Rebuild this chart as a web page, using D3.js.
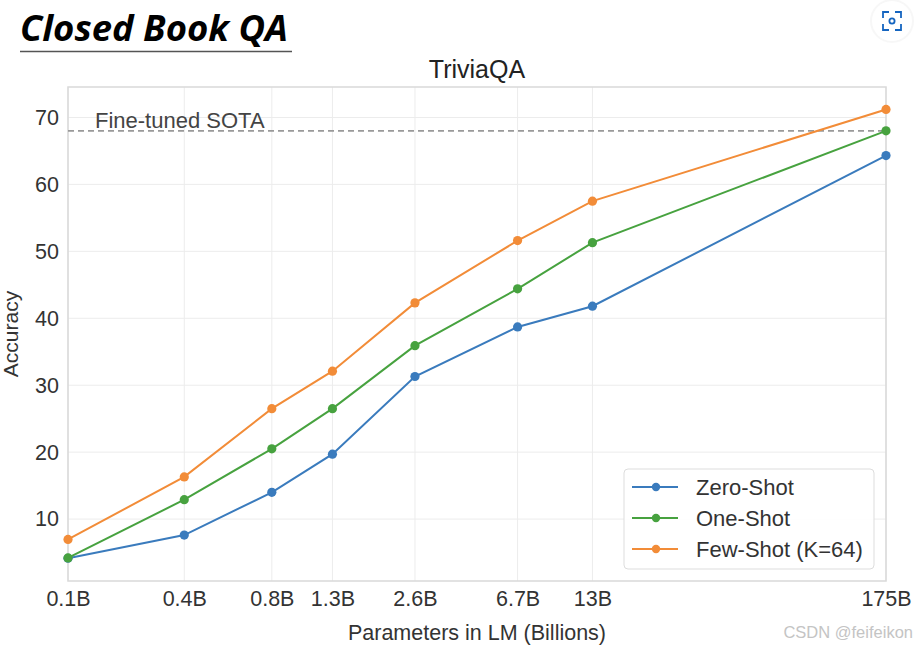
<!DOCTYPE html>
<html><head><meta charset="utf-8">
<script src="https://cdn.jsdelivr.net/npm/d3@7"></script>
<style>html,body{margin:0;padding:0;background:#fff;}svg{display:block;}</style>
</head><body>
<svg id="c" width="917" height="648"></svg>
<script>
const params = [0.125, 0.35, 0.76, 1.3, 2.7, 6.7, 13, 175];
const tickLabels = ["0.1B", "0.4B", "0.8B", "1.3B", "2.6B", "6.7B", "13B", "175B"];
const zeroShot = [4.15, 7.61, 14.0, 19.7, 31.3, 38.7, 41.8, 64.3];
const oneShot = [4.19, 12.9, 20.5, 26.5, 35.9, 44.4, 51.3, 68.0];
const fewShot = [6.96, 16.3, 26.5, 32.1, 42.3, 51.6, 57.5, 71.2];
const seriesNames = ["Zero-Shot", "One-Shot", "Few-Shot (K=64)"];
const seriesColors = ["#3a7bbd", "#47a23f", "#f28c38"];
const yTicks = [10, 20, 30, 40, 50, 60, 70];
const sota = 68.0;

const svg = d3.select("#c");
const L = 68, R = 886, T = 87, B = 581;
const x = d3.scaleLog().domain([0.125, 175]).range([L, R]);
const y = d3.scaleLinear().domain([0.75, 74.55]).range([B, T]);
const font = "'Liberation Sans', Arial, sans-serif";

// title block
svg.append("text").attr("x", 20).attr("y", 41).attr("font-family", "'Open Sans', 'Liberation Sans', sans-serif")
  .attr("font-weight", "bold").attr("font-style", "italic").attr("font-size", 36).attr("fill", "#000")
  .attr("textLength", 268).attr("lengthAdjust", "spacingAndGlyphs").text("Closed Book QA");
svg.append("line").attr("x1", 20).attr("x2", 292).attr("y1", 51.5).attr("y2", 51.5).attr("stroke", "#555").attr("stroke-width", 1.5);

// scan icon
const ic = svg.append("g").attr("transform", "translate(892,21)");
ic.append("circle").attr("r", 22).attr("fill", "#f4f4f4").attr("opacity", 0.7);
ic.append("circle").attr("r", 20).attr("fill", "#fff");
const bp = "M-9,-3 V-9 H-3 M3,-9 H9 V-3 M9,3 V9 H3 M-3,9 H-9 V3";
ic.append("path").attr("d", bp).attr("fill", "none").attr("stroke", "#1565c0").attr("stroke-width", 1.8);
ic.append("circle").attr("r", 2.6).attr("fill", "none").attr("stroke", "#1565c0").attr("stroke-width", 1.8);

// chart title
svg.append("text").attr("x", (L + R) / 2).attr("y", 78).attr("text-anchor", "middle")
  .attr("font-family", font).attr("font-size", 25).attr("fill", "#222").text("TriviaQA");

// grid
const g = svg.append("g");
g.selectAll(".gy").data(yTicks).join("line").attr("x1", L).attr("x2", R)
  .attr("y1", d => y(d)).attr("y2", d => y(d)).attr("stroke", "#ececec").attr("stroke-width", 1);
g.selectAll(".gx").data(params).join("line").attr("y1", T).attr("y2", B)
  .attr("x1", d => x(d)).attr("x2", d => x(d)).attr("stroke", "#ececec").attr("stroke-width", 1);
svg.append("rect").attr("x", L).attr("y", T).attr("width", R - L).attr("height", B - T)
  .attr("fill", "none").attr("stroke", "#d9d9d9").attr("stroke-width", 1.5);

// axes
const xAxis = d3.axisBottom(x).tickValues(params).tickFormat((d, i) => tickLabels[i]).tickSize(0).tickPadding(10);
const ax = svg.append("g").attr("transform", `translate(0,${B})`).call(xAxis);
ax.select(".domain").remove();
ax.selectAll("text").attr("font-family", font).attr("font-size", 21.5).attr("fill", "#333");
const yAxis = d3.axisLeft(y).tickValues(yTicks).tickSize(0).tickPadding(9);
const ay = svg.append("g").attr("transform", `translate(${L},0)`).call(yAxis);
ay.select(".domain").remove();
ay.selectAll("text").attr("font-family", font).attr("font-size", 21.5).attr("fill", "#333");

svg.append("text").attr("x", (L + R) / 2).attr("y", 640).attr("text-anchor", "middle")
  .attr("font-family", font).attr("font-size", 21.5).attr("fill", "#333").text("Parameters in LM (Billions)");
svg.append("text").attr("transform", `translate(18,${(T + B) / 2}) rotate(-90)`).attr("text-anchor", "middle")
  .attr("font-family", font).attr("font-size", 21).attr("fill", "#333").text("Accuracy");

// SOTA
svg.append("line").attr("x1", L).attr("x2", R).attr("y1", y(sota)).attr("y2", y(sota))
  .attr("stroke", "#999").attr("stroke-width", 1.6).attr("stroke-dasharray", "6,4");
svg.append("text").attr("x", 95).attr("y", y(sota) - 3).attr("font-family", font).attr("font-size", 22)
  .attr("fill", "#444").text("Fine-tuned SOTA");

// series
const allSeries = [zeroShot, oneShot, fewShot];
const line = d3.line().x((d, i) => x(params[i])).y(d => y(d));
allSeries.forEach((s, k) => {
  svg.append("path").datum(s).attr("d", line).attr("fill", "none").attr("stroke", seriesColors[k]).attr("stroke-width", 2);
  svg.append("g").selectAll("circle").data(s).join("circle")
    .attr("cx", (d, i) => x(params[i])).attr("cy", d => y(d)).attr("r", 4.6).attr("fill", seriesColors[k]);
});

// legend
const lg = svg.append("g");
lg.append("rect").attr("x", 624).attr("y", 469).attr("width", 250).attr("height", 100).attr("rx", 4)
  .attr("fill", "#fff").attr("fill-opacity", 0.9).attr("stroke", "#ddd").attr("stroke-width", 1);
seriesNames.forEach((n, k) => {
  const yy = 487 + k * 31;
  lg.append("line").attr("x1", 632).attr("x2", 678).attr("y1", yy).attr("y2", yy).attr("stroke", seriesColors[k]).attr("stroke-width", 2);
  lg.append("circle").attr("cx", 656).attr("cy", yy).attr("r", 4.2).attr("fill", seriesColors[k]);
  lg.append("text").attr("x", 696).attr("y", yy + 8).attr("font-family", font).attr("font-size", 22).attr("fill", "#333").text(n);
});

// watermark
svg.append("text").attr("x", 913).attr("y", 638).attr("text-anchor", "end").attr("font-family", font)
  .attr("font-size", 16.5).attr("fill", "#c4c4c4").text("CSDN @feifeikon");
</script>
</body></html>
